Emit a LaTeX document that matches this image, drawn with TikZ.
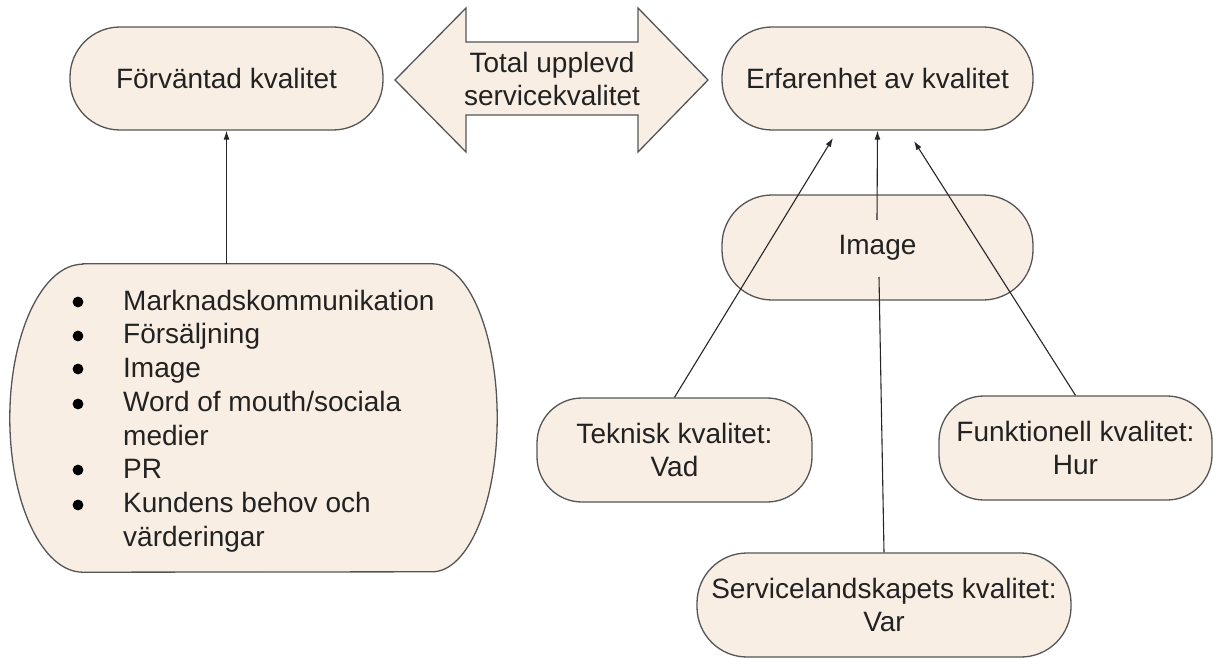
\documentclass[tikz,border=0pt]{standalone}
\usepackage{fontspec}
\setmainfont{Liberation Sans}
\usetikzlibrary{arrows.meta}
\definecolor{boxfill}{HTML}{F9EEE4}
\definecolor{boxline}{HTML}{555555}
\definecolor{txt}{HTML}{222222}
\tikzset{
  box/.style={draw=boxline, fill=boxfill, line width=1.3pt, rounded corners=50pt,
    text=txt, align=center, inner sep=0pt, font=\fontsize{28}{33.7}\selectfont},
  smallbox/.style={box, rounded corners=45pt},
  conn/.style={draw=black!85, line width=1.1pt},
  arr/.style={conn, -{Latex[length=9pt,width=6pt]}},
  bulletdot/.style={fill=black},
}
\begin{document}
\begin{tikzpicture}[x=1pt,y=-1pt]
\useasboundingbox (0,0) rectangle (1215,658);

% double arrow
\fill[boxfill] (395,80) -- (466,8) -- (466,42) -- (638,42) -- (638,8) -- (708,80)
  -- (638,152) -- (638,115) -- (466,115) -- (466,152) -- cycle;
\draw[boxline, line width=1.3pt, line join=miter] (395,80) -- (466,8) -- (466,42) -- (638,42) -- (638,8) -- (708,80)
  -- (638,152) -- (638,115) -- (466,115) -- (466,152) -- cycle;
\node[text=txt, align=center, inner sep=0pt, font=\fontsize{28}{33.7}\selectfont] (dbl) at (552,79) {Total upplevd\\servicekvalitet};

% main boxes
\node[box, minimum width=313pt, minimum height=103pt] (fk) at (226.5,78.5) {Förväntad kvalitet};
\node[box, minimum width=311pt, minimum height=103pt] (erf) at (877.5,78.5) {Erfarenhet av kvalitet};
\node[box, minimum width=311pt, minimum height=105pt] (img) at (877.5,247.5) {Image};
\node[smallbox, minimum width=275pt, minimum height=104pt] (tek) at (674.5,450) {Teknisk kvalitet:\\Vad};
\node[smallbox, minimum width=273pt, minimum height=104pt] (fun) at (1075.5,448) {Funktionell kvalitet:\\Hur};
\node[box, minimum width=374pt, minimum height=104pt] (serv) at (884,605) {Servicelandskapets kvalitet:\\Var};

% list box
\node[minimum width=487pt, minimum height=308pt, inner sep=0pt] (list) at (253.5,418) {};
\fill[boxfill, draw=boxline, line width=1.3pt]
  ([xshift=73pt]list.north west) -- ([xshift=-65pt]list.north east)
  arc[start angle=90, end angle=-90, x radius=65pt, y radius=154pt]
  -- ([xshift=73pt]list.south west)
  arc[start angle=270, end angle=90, x radius=73pt, y radius=154pt] -- cycle;
\node[text=txt, inner sep=0pt, align=left, font=\fontsize{28}{33.7}\selectfont, anchor=west] (items) at (123,421)
  {Marknadskommunikation\\Försäljning\\Image\\Word of mouth/sociala\\medier\\PR\\Kundens behov och\\värderingar};
\foreach \yy in {302,336,369,404,470,505}
  \fill[bulletdot] (78,\yy) circle[radius=5.4pt];

% connectors
\coordinate (imgtop) at (877,220);
\coordinate (imgbot) at (879,277);
\coordinate (tekend) at (833,138);
\coordinate (funend) at (914,141);
\draw[arr] (list.north -| fk.south) -- (fk.south);
\draw[conn] (serv.north) -- (imgbot);
\draw[arr] (imgtop) -- (erf.south);
\draw[arr] (tek.north) -- (tekend);
\draw[arr] (fun.north) -- (funend);
\end{tikzpicture}
\end{document}
